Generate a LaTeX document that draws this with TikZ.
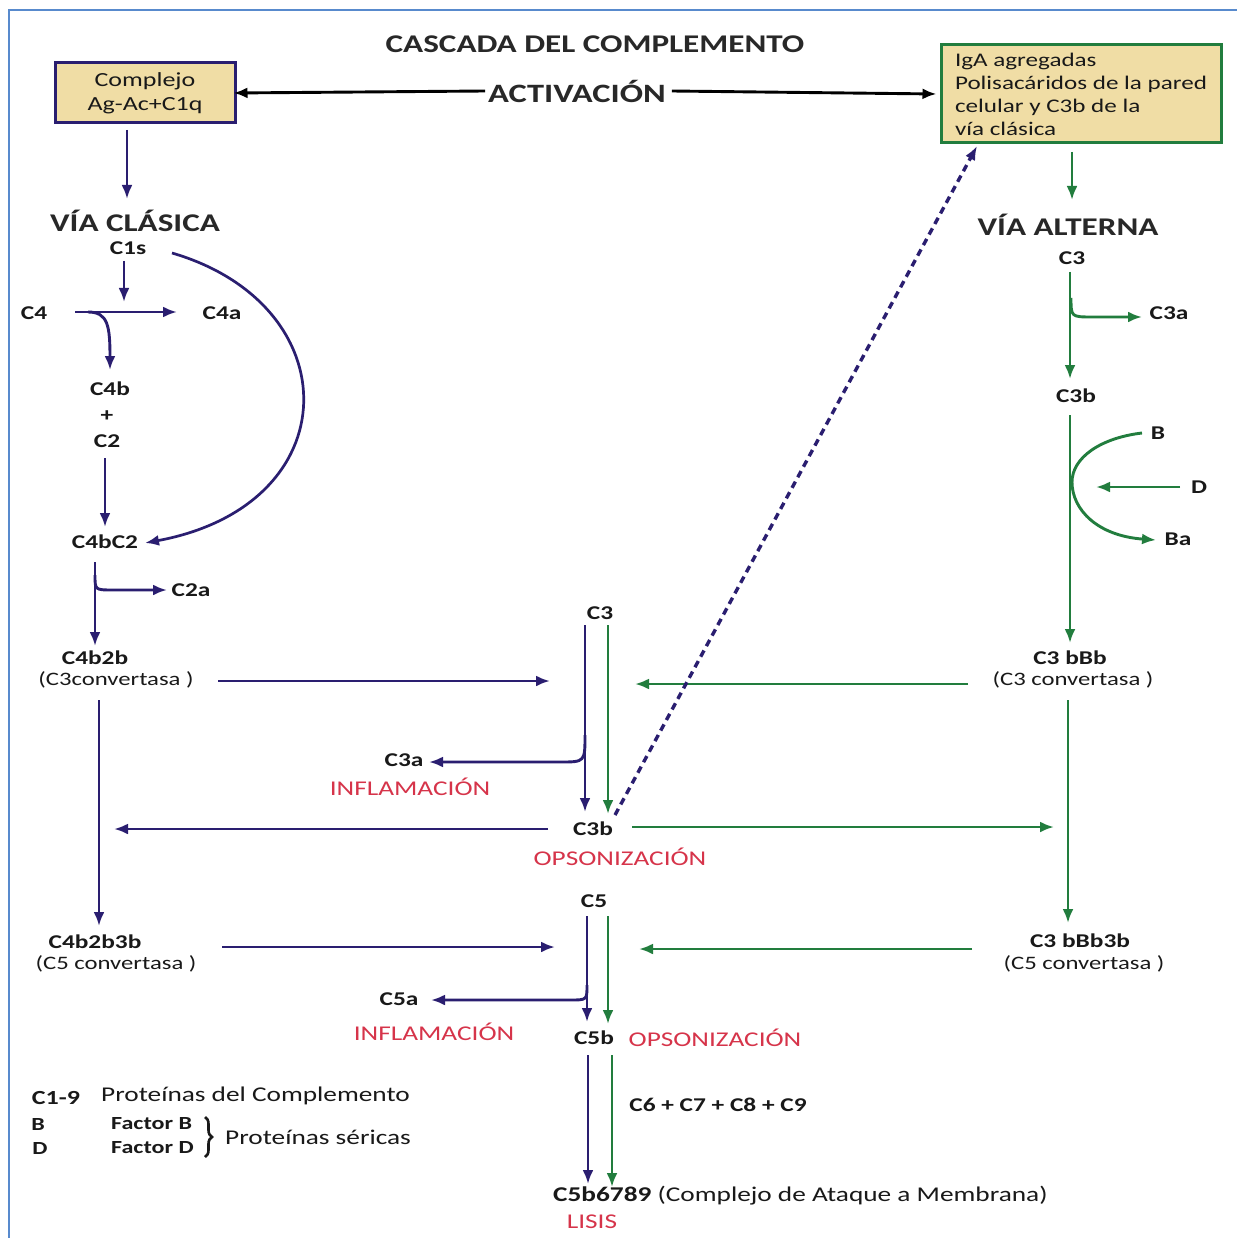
\documentclass[tikz,border=0pt]{standalone}
\usepackage{fontspec}
\setmainfont[FakeStretch=1.3]{Carlito}
\usetikzlibrary{arrows.meta,decorations.pathreplacing}
\definecolor{navy}{RGB}{42,30,112}
\definecolor{pgreen}{RGB}{34,125,62}
\definecolor{tanfill}{RGB}{240,221,165}
\definecolor{redlbl}{RGB}{214,52,74}
\definecolor{frameblue}{RGB}{88,138,205}
\definecolor{txt}{RGB}{25,25,25}
\definecolor{headgray}{RGB}{40,40,40}
\begin{document}
\begin{tikzpicture}[x=1pt,y=-1pt,
  every node/.style={inner sep=0pt,text=txt},
  lbl/.style={font=\bfseries\fontsize{19.5}{21}\selectfont},
  sub/.style={font=\fontsize{19}{21}\selectfont},
  head/.style={font=\bfseries\fontsize{25.5}{28}\selectfont,text=headgray},
  alert/.style={font=\fontsize{21}{23}\selectfont,text=redlbl},
  legend/.style={font=\fontsize{21}{23}\selectfont},
  legendb/.style={font=\bfseries\fontsize{18.5}{20}\selectfont},
  tip/.style={-{Latex[length=14pt,width=11pt]}},
  nav/.style={draw=navy,line width=2.9pt,tip},
  grn/.style={draw=pgreen,line width=2.9pt,tip},
  blk/.style={draw=black,line width=2.9pt,tip},
  boxl/.style={draw=navy,line width=3pt,fill=tanfill,minimum width=180pt,
    minimum height=60pt,align=center,font=\fontsize{20}{24}\selectfont},
  boxr/.style={draw=pgreen,line width=3pt,fill=tanfill,minimum width=280pt,
    minimum height=98pt,align=left,font=\fontsize{19.3}{23}\selectfont},
  ]
\useasboundingbox (0,0) rectangle (1237,1238);
\fill[white] (0,0) rectangle (1237,1238);
% frame
\draw[frameblue,line width=2pt] (9,1238) -- (9,10) -- (1237,10);

% ---------- header ----------
\node[head] (title) at (595,44) {CASCADA DEL COMPLEMENTO};
\node[head,font=\bfseries\fontsize{26.5}{28}\selectfont] (act) at (577,91) {ACTIVACIÓN};
\node[boxl] (boxL) at (145,93) {Complejo\\Ag-Ac+C1q};
\node[boxr] (boxR) at (1081,94) {IgA agregadas\\Polisacáridos de la pared\\celular y C3b de la\\vía clásica};
\draw[blk] ([xshift=-3pt]act.west) -- ([xshift=-3pt]boxL.east);
\draw[blk] ([xshift=6pt]act.east) -- ([xshift=-3pt]boxR.west);

% ---------- classical pathway ----------
\node[head] (viaC) at (135,221) {VÍA CLÁSICA};
\node[lbl] (c1s) at (128,248) {C1s};
\node[lbl] (c4) at (34,313) {C4};
\node[lbl] (c4a) at (222,313) {C4a};
\node[lbl] (c4b) at (110,389) {C4b};
\node[lbl] (plus) at (107,416) {+};
\node[lbl] (c2) at (107,441) {C2};
\node[lbl] (c4bc2) at (105,542) {C4bC2};
\node[lbl] (c2a) at (191,590) {C2a};
\node[lbl] (c4b2b) at (95,658) {C4b2b};
\node[sub] (conv3L) at (116,680) {(C3convertasa )};
\node[lbl] (c4b2b3b) at (95,942) {C4b2b3b};
\node[sub] (conv5L) at (116,964) {(C5 convertasa )};

\coordinate (k1) at (127,130);  \coordinate (k2) at (127,199);
\coordinate (k3) at (124,261);  \coordinate (k4) at (124,302);
\coordinate (k5) at (75,312);   \coordinate (k6) at (177,312);
\coordinate (k7) at (88,312);   \coordinate (k8) at (110,370);
\coordinate (k9) at (105,458);  \coordinate (k10) at (105,527);
\coordinate (k11) at (172,253); \coordinate (k12) at (145,543);
\coordinate (k13) at (95,562);  \coordinate (k14) at (95,646);
\coordinate (k15) at (95,575);  \coordinate (k16) at (167,590);
\coordinate (k17) at (218,681); \coordinate (k18) at (550,681);
\coordinate (k19) at (99,700);  \coordinate (k20) at (99,926);

\draw[nav] (k1) -- (k2);
\draw[nav] (k3) -- (k4);
\draw[nav] (k5) -- (k6);
\draw[nav] (k7) .. controls (108,312) and (110,326) .. (k8);
\draw[nav] (k9) -- (k10);
\draw[nav,line width=2.7pt] (k11) .. controls (350,305) and (350,505) .. (k12);
\draw[nav] (k13) -- (k14);
\draw[nav] (k15) .. controls (95,590) .. (113,590) -- (k16);
\draw[nav] (k17) -- (k18);
\draw[nav] (k19) -- (k20);

% ---------- alternative pathway ----------
\node[head] (viaA) at (1068,225) {VÍA ALTERNA};
\node[lbl] (c3r) at (1072,258) {C3};
\node[lbl] (c3ar) at (1169,313) {C3a};
\node[lbl] (c3br) at (1076,396) {C3b};
\node[lbl] (fB) at (1158,433) {B};
\node[lbl] (fD) at (1199,487) {D};
\node[lbl] (fBa) at (1178,539) {Ba};
\node[lbl] (c3bbb) at (1070,658) {C3 bBb};
\node[sub] (conv3R) at (1073,680) {(C3 convertasa )};
\node[lbl] (c3bbb3b) at (1080,941) {C3 bBb3b};
\node[sub] (conv5R) at (1084,964) {(C5 convertasa )};

\coordinate (g1) at (1072,152);  \coordinate (g2) at (1072,200);
\coordinate (g3) at (1070,272);  \coordinate (g4) at (1070,379);
\coordinate (g5) at (1071,298);  \coordinate (g6) at (1142,317);
\coordinate (g7) at (1070,415);  \coordinate (g8) at (1070,643);
\coordinate (g9) at (1142,433);  \coordinate (g10) at (1156,540);
\coordinate (g11) at (1180,487); \coordinate (g12) at (1096,487);
\coordinate (g13) at (968,684);  \coordinate (g14) at (635,684);
\coordinate (g15) at (1068,700); \coordinate (g16) at (1068,923);
\coordinate (g17) at (972,949);  \coordinate (g18) at (639,949);

\draw[grn] (g1) -- (g2);
\draw[grn] (g3) -- (g4);
\draw[grn] (g5) .. controls (1071,317) .. (1093,317) -- (g6);
\draw[grn] (g7) -- (g8);
\draw[grn] (g9) .. controls (1100,438) and (1072,458) .. (1072,482)
               .. controls (1072,510) and (1098,536) .. (g10);
\draw[grn] (g11) -- (g12);
\draw[grn] (g13) -- (g14);
\draw[grn] (g15) -- (g16);
\draw[grn] (g17) -- (g18);

% ---------- common terminal pathway ----------
\node[lbl] (c3m) at (600,613) {C3};
\node[lbl] (c3am) at (404,760) {C3a};
\node[alert] (infl1) at (410,787) {INFLAMACIÓN};
\node[lbl] (c3bm) at (593,829) {C3b};
\node[alert] (ops1) at (620,857) {OPSONIZACIÓN};
\node[lbl] (c5) at (594,901) {C5};
\node[lbl] (c5a) at (399,999) {C5a};
\node[alert] (infl2) at (434,1032) {INFLAMACIÓN};
\node[lbl] (c5b) at (594,1038) {C5b};
\node[alert] (ops2) at (715,1038) {OPSONIZACIÓN};
\node[font=\bfseries\fontsize{19.5}{21}\selectfont] (c6789) at (718,1105) {C6 + C7 + C8 + C9};
\node[legend,anchor=west] (mac) at (553,1196) {\textbf{C5b6789} (Complejo de Ataque a Membrana)};
\node[alert] (lisis) at (592,1222) {LISIS};

\coordinate (m1) at (585,625);  \coordinate (m2) at (585,812);
\coordinate (m3) at (608,625);  \coordinate (m4) at (608,814);
\coordinate (m5) at (585,735);  \coordinate (m6) at (429,762);
\coordinate (m7) at (548,829);  \coordinate (m8) at (114,829);
\coordinate (m9) at (632,827);  \coordinate (m10) at (1054,827);
\coordinate (m11) at (222,947); \coordinate (m12) at (555,947);
\coordinate (m13) at (587,916); \coordinate (m14) at (587,1022);
\coordinate (m15) at (608,916); \coordinate (m16) at (608,1024);
\coordinate (m17) at (587,985); \coordinate (m18) at (431,1000);
\coordinate (m19) at (588,1055); \coordinate (m20) at (588,1184);
\coordinate (m21) at (612,1055); \coordinate (m22) at (612,1187);
\coordinate (d1) at (615,815);  \coordinate (d2) at (977,146);

\draw[nav] (m1) -- (m2);
\draw[grn] (m3) -- (m4);
\draw[nav] (m5) .. controls (585,762) .. (560,762) -- (m6);
\draw[nav] (m7) -- (m8);
\draw[grn] (m9) -- (m10);
\draw[nav] (m11) -- (m12);
\draw[nav] (m13) -- (m14);
\draw[grn] (m15) -- (m16);
\draw[nav] (m17) .. controls (587,1000) .. (570,1000) -- (m18);
\draw[nav] (m19) -- (m20);
\draw[grn] (m21) -- (m22);
\draw[nav,line width=3.4pt,dash pattern=on 7pt off 5pt] (d1) -- (d2);

% ---------- legend ----------
\node[legendb,font=\bfseries\fontsize{20}{22}\selectfont] (lc19) at (56,1098) {C1-9};
\node[legend,anchor=west] (lprot) at (101,1096) {Proteínas del Complemento};
\node[legendb] (lB) at (38,1124) {B};
\node[legendb,anchor=west] (lfB) at (111,1124) {Factor B};
\node[legendb] (lD) at (40,1148) {D};
\node[legendb,anchor=west] (lfD) at (111,1148) {Factor D};
\draw[txt,line width=2.6pt,decorate,decoration={brace,amplitude=7pt}]
  (205,1117) -- (205,1157);
\node[legend,anchor=west] (lser) at (225,1137) {Proteínas séricas};
\end{tikzpicture}
\end{document}
